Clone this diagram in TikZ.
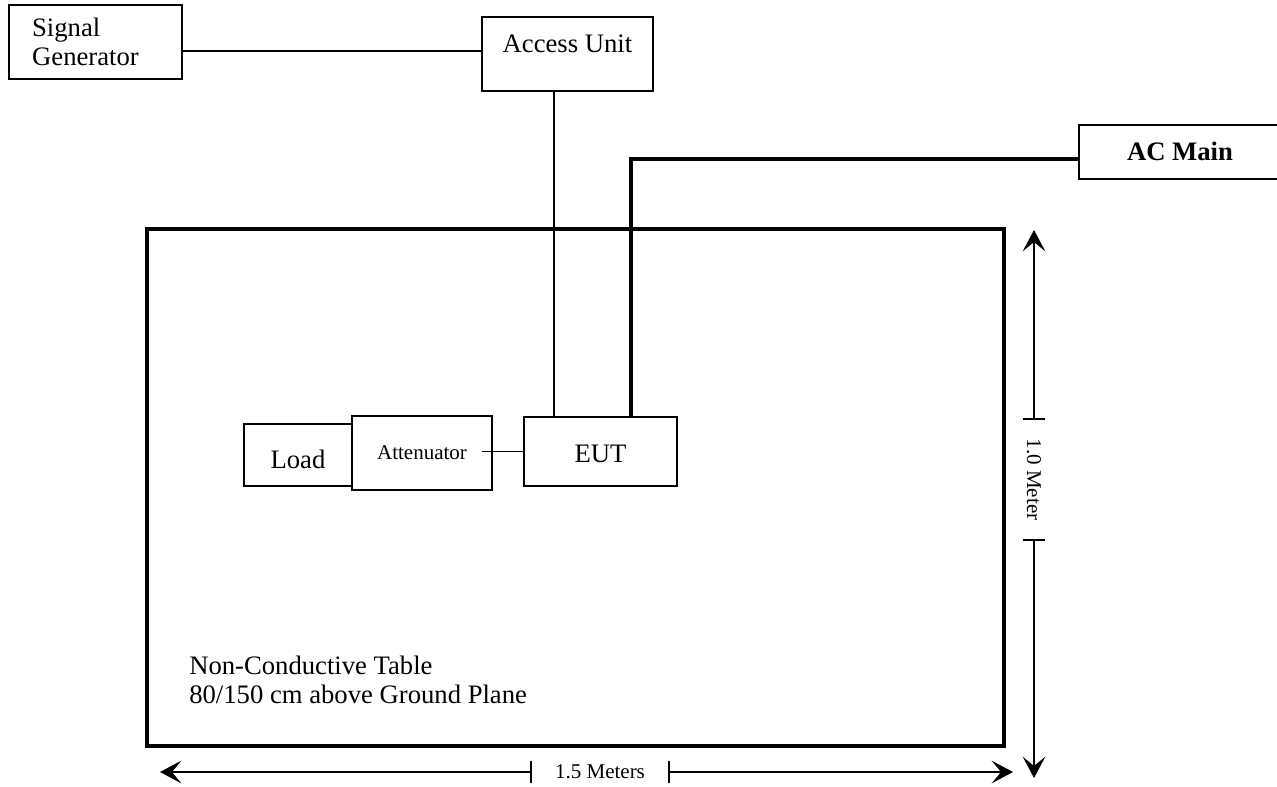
\documentclass[tikz,border=0pt]{standalone}
\usepackage{fontspec}
\setmainfont{Liberation Serif}
\usetikzlibrary{arrows.meta}

\begin{document}
\begin{tikzpicture}[x=0.75pt, y=-0.75pt]
    \tikzstyle{unit}=[draw, rectangle, line width=1.5pt, inner sep=0pt, font=\fontsize{20}{22}\selectfont]
    \tikzstyle{wire}=[line width=1.3pt]
    \tikzstyle{mains}=[line width=3pt]
    \tikzstyle{dimline}=[line width=1.2pt, {Bar[width=16pt]}-{Stealth[length=16pt, width=17pt, inset=7pt]}]
    \tikzstyle{dimlabel}=[inner sep=0pt, font=\fontsize{15.75}{18}\selectfont]

    \useasboundingbox (0,0) rectangle (1277,786);

    % table
    \node[draw, line width=2.5pt, minimum width=642.75pt, minimum height=387.75pt, inner sep=0pt] (table) at (575.5,487.5) {};
    \node[anchor=north west, align=left, inner sep=0pt, font=\fontsize{20}{21.75}\selectfont] (tablenote) at (189,656)
    {Non-Conductive Table\\80/150 cm above Ground Plane};

    % boxes
    \node[unit, minimum width=129.75pt, minimum height=55.5pt, align=left, text width=95pt] (siggen) at (95.5,42) {Signal\\Generator};
    \node[unit, minimum width=128.25pt, text height=26.25pt, text depth=29.25pt] (access) at (567.5,54) {Access Unit};
    \node[unit, minimum width=151.5pt, text height=26.25pt, text depth=14.25pt, font=\fontsize{20}{22}\selectfont\bfseries] (acmain) at (1180,152) {AC Main};
    \node[unit, minimum width=81pt, text height=33pt, text depth=13.5pt] (load) at (298,455) {Load};
    \node[unit, minimum width=105pt, text height=32.25pt, text depth=23.25pt, font=\fontsize{15.75}{18}\selectfont] (atten) at (422,453) {Attenuator};
    \node[unit, minimum width=114.75pt, text height=34.125pt, text depth=17.625pt] (eut) at (600.5,451.5) {EUT};

    % cables
    \coordinate (sgline) at (0,51);
    \coordinate (eutsig) at (554,0);
    \coordinate (eutpwr) at (631,159);
    \coordinate (attout) at (482,0);
    \draw[wire] (siggen.east |- sgline) -- (access.west |- sgline);
    \draw[wire] (access.south -| eutsig) -- (eut.north -| eutsig);
    \draw[mains] (acmain.west |- eutpwr) -| (eut.north -| eutpwr);
    \draw[wire] (eut.west -| attout) -- (eut.west);

    % dimensions
    \node[dimlabel, minimum width=102pt] (hdim) at (600,772) {1.5 Meters};
    \coordinate (hleft) at (160,772);
    \coordinate (hright) at (1013,772);
    \draw[dimline] (hdim.west) -- (hleft);
    \draw[dimline] (hdim.east) -- (hright);

    \node[dimlabel, rotate=-90, minimum width=89.25pt] (vdim) at (1034,479.5) {1.0 Meter};
    \coordinate (vtop) at (1034,230);
    \coordinate (vbottom) at (1034,778);
    \draw[dimline] (vdim.west) -- (vtop);
    \draw[dimline] (vdim.east) -- (vbottom);
\end{tikzpicture}
\end{document}
